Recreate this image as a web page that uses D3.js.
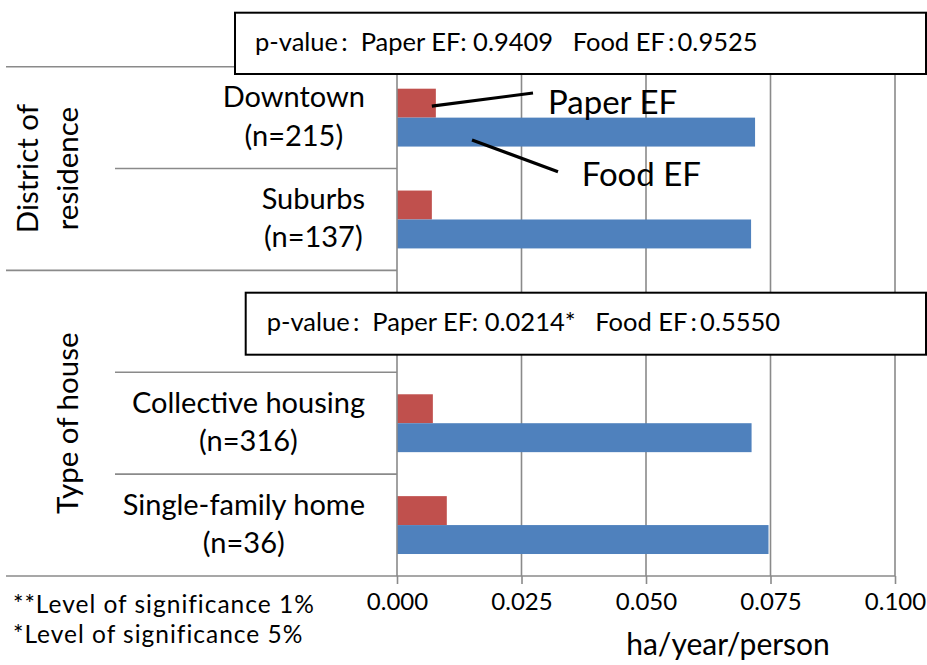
<!DOCTYPE html>
<html>
<head>
<meta charset="utf-8">
<script src="https://cdn.jsdelivr.net/npm/d3@7"></script>
<style>
  html, body { margin: 0; padding: 0; background: #fff; }
  svg { display: block; font-family: Lato, "Noto Sans", sans-serif; }
  text { white-space: pre; }
</style>
</head>
<body>
<svg id="chart" width="927" height="665"></svg>
<script>
// Categories, top to bottom (the empty slot holds the second p-value box)
const categories = ["Downtown", "Suburbs", "", "Collective housing", "Single-family home"];
const sampleSizes = ["(n=215)", "(n=137)", "", "(n=316)", "(n=36)"];
const series = ["Paper EF", "Food EF"];
const paperEF = [0.0078, 0.0070, null, 0.0072, 0.0100];
const foodEF  = [0.0719, 0.0711, null, 0.0712, 0.0746];
const seriesColors = ["#C0504D", "#4F81BD"];
const xTicks = [0, 0.025, 0.05, 0.075, 0.1];
const groups = [
  { lines: ["District of", "residence"], from: 0, to: 1 },
  { lines: ["Type of house"], from: 2, to: 4 }
];
const pValueNotes = [
  "p-value\u2009:  Paper EF: 0.9409   Food EF\u2009:\u20090.9525",
  "p-value\u2009:  Paper EF: 0.0214*   Food EF\u2009:\u20090.5550"
];
const footnotes = ["**Level of significance 1%", "*Level of significance 5%"];
const axisTitle = "ha/year/person";

const svg = d3.select("#chart");
const grey = "#8a8a8a";

const plot = { left: 397, right: 895, top: 66.7, bottom: 576 };
const x = d3.scaleLinear().domain([0, 0.1]).range([plot.left, plot.right]);
const y = d3.scaleBand().domain(d3.range(categories.length)).range([plot.top, plot.bottom]).padding(0);
const ySub = d3.scaleBand().domain(series).range([0, y.bandwidth()]).paddingInner(0).paddingOuter(0.76);

// vertical gridlines
svg.append("g").selectAll("line").data(xTicks.slice(1)).join("line")
  .attr("x1", d => x(d)).attr("x2", d => x(d))
  .attr("y1", plot.top).attr("y2", plot.bottom)
  .attr("stroke", grey).attr("stroke-width", 1.6);

// bars
const rows = categories.map((c, i) => ({ i, vals: [paperEF[i], foodEF[i]] })).filter(r => r.vals[0] != null);
const barG = svg.append("g");
rows.forEach(r => {
  barG.selectAll(null).data(series).enter().append("rect")
    .attr("x", x(0))
    .attr("y", s => y(r.i) + ySub(s))
    .attr("width", (s, k) => x(r.vals[k]) - x(0))
    .attr("height", ySub.bandwidth())
    .attr("fill", (s, k) => seriesColors[k]);
});

// x axis
const xAxis = d3.axisBottom(x).tickValues(xTicks).tickFormat(d3.format(".3f")).tickSize(8).tickSizeOuter(0);
const ax = svg.append("g").attr("transform", `translate(0,${plot.bottom})`).call(xAxis);
ax.select(".domain").remove();
ax.selectAll(".tick line").attr("stroke", grey).attr("stroke-width", 1.6);
ax.selectAll(".tick text").attr("font-size", 24).attr("fill", "#000").attr("font-family", "Lato").attr("y", 0).attr("dy", 33.5);

// axis lines and category separators
svg.append("line").attr("x1", 6).attr("x2", plot.right).attr("y1", plot.bottom).attr("y2", plot.bottom)
  .attr("stroke", grey).attr("stroke-width", 1.6);
svg.append("line").attr("x1", plot.left).attr("x2", plot.left).attr("y1", plot.top).attr("y2", plot.bottom)
  .attr("stroke", grey).attr("stroke-width", 1.6);
const groupEdges = groups.map(g => g.from);
d3.range(categories.length).forEach(i => {
  const full = groupEdges.includes(i);
  svg.append("line").attr("x1", full ? 6 : 115).attr("x2", plot.left)
    .attr("y1", y(i)).attr("y2", y(i)).attr("stroke", grey).attr("stroke-width", 1.6);
});

// category labels: two centered lines, block right-aligned
const labelRight = 365;
categories.forEach((c, i) => {
  if (!c) return;
  const cy = y(i) + y.bandwidth() / 2;
  const g = svg.append("g");
  const t1 = g.append("text").text(c).attr("font-size", 29).attr("y", cy - 10.5);
  const t2 = g.append("text").text(sampleSizes[i]).attr("font-size", 29).attr("y", cy + 28);
  const w = Math.max(t1.node().getComputedTextLength(), t2.node().getComputedTextLength());
  const mid = labelRight - w / 2;
  t1.attr("x", mid).attr("text-anchor", "middle");
  t2.attr("x", mid).attr("text-anchor", "middle");
});

// group labels (rotated)
groups.forEach(g => {
  const cy = (y(g.from) + y(g.to) + y.bandwidth()) / 2;
  const n = g.lines.length;
  g.lines.forEach((line, k) => {
    const bx = 78 - (n - 1 - k) * 40;
    svg.append("text").text(line)
      .attr("transform", `translate(${bx},${cy}) rotate(-90)`)
      .attr("text-anchor", "middle").attr("font-size", 29.5);
  });
});

// p-value boxes
const boxes = [
  { x0: 235, y0: 12.7, y1: 74, tx: 255, ty: 51 },
  { x0: 245.7, y0: 292.7, y1: 354.7, tx: 266.7, ty: 331 }
];
boxes.forEach((b, k) => {
  svg.append("rect").attr("x", b.x0).attr("y", b.y0).attr("width", 926 - b.x0).attr("height", b.y1 - b.y0)
    .attr("fill", "#fff").attr("stroke", "#000").attr("stroke-width", 2);
  svg.append("text").text(pValueNotes[k]).attr("x", b.tx).attr("y", b.ty).attr("font-size", 25.5);
});

// series labels with leader lines
const topRow = 0;
const paperMidY = y(topRow) + ySub("Paper EF") + ySub.bandwidth() / 2;
const foodMidY = y(topRow) + ySub("Food EF") + ySub.bandwidth() / 2;
svg.append("line").attr("x1", x(paperEF[topRow]) - 4).attr("y1", paperMidY + 3)
  .attr("x2", 533).attr("y2", 93).attr("stroke", "#000").attr("stroke-width", 3.2);
svg.append("line").attr("x1", 472).attr("y1", foodMidY + 8)
  .attr("x2", 558).attr("y2", 171.7).attr("stroke", "#000").attr("stroke-width", 3.2);
svg.append("text").text(series[0]).attr("x", 548).attr("y", 114.3).attr("font-size", 33);
svg.append("text").text(series[1]).attr("x", 581.7).attr("y", 186).attr("font-size", 33);

// footnotes and axis title
footnotes.forEach((f, k) => {
  svg.append("text").text(f).attr("x", 13).attr("y", [613, 643][k])
    .attr("font-size", 24.5).attr("letter-spacing", 1);
});
svg.append("text").text(axisTitle).attr("x", 728).attr("y", 655).attr("text-anchor", "middle").attr("font-size", 30);
</script>
</body>
</html>
